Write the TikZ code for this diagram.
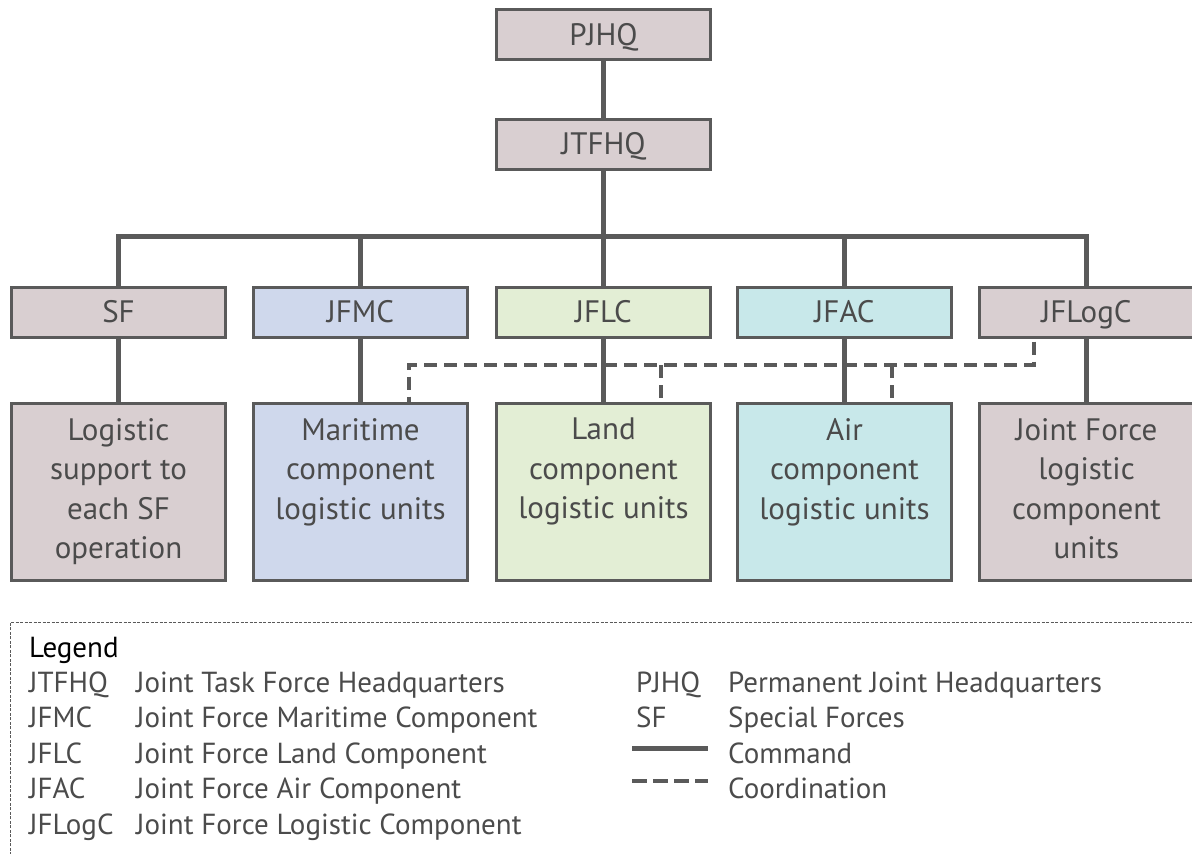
\documentclass[tikz,border=0pt]{standalone}
\usepackage{fontspec}
\setmainfont{PT Sans}
\usepackage{color}
\usepackage{tikz}
\definecolor{hqfill}{RGB}{217,207,209}
\definecolor{seafill}{RGB}{207,216,236}
\definecolor{landfill}{RGB}{227,238,213}
\definecolor{airfill}{RGB}{200,232,234}
\definecolor{linegray}{RGB}{90,90,90}
\definecolor{textgray}{RGB}{75,75,75}
\tikzset{
  font={\fontsize{31}{39.5}\selectfont},
  hqbox/.style={draw=linegray, line width=3pt, minimum width=214pt, minimum height=50pt, text=textgray, text height=21.5pt, text depth=0pt},
  unitbox/.style={hqbox, minimum height=177pt},
  unittext/.style={anchor=north, align=center, text=textgray},
  cmdline/.style={linegray, line width=5pt},
  coordline/.style={linegray, line width=4pt, dash pattern=on 13pt off 7pt},
  legtext/.style={anchor=base west, text=textgray, font={\fontsize{29}{35.5}\selectfont}}}

\begin{document}
\begin{tikzpicture}[x=1pt,y=-1pt]
\tikzstyle{every node}+=[inner sep=0pt]
\useasboundingbox (0,0) rectangle (1192,854);
\clip (0,0) rectangle (1192,854);
\node [hqbox, fill=hqfill] (pjhq) at (603.5,34.5) {PJHQ};
\node [hqbox, fill=hqfill] (jtfhq) at (603.5,144) {JTFHQ};
\node [hqbox, fill=hqfill] (sf) at (118.5,312) {SF};
\node [hqbox, fill=seafill] (jfmc) at (360.5,312) {JFMC};
\node [hqbox, fill=landfill] (jflc) at (603.5,312) {JFLC};
\node [hqbox, fill=airfill] (jfac) at (844.5,312) {JFAC};
\node [hqbox, fill=hqfill] (jflogc) at (1086.5,312) {JFLogC};
\node [unitbox, fill=hqfill] (sfunits) at (118.5,492) {};
\node [unitbox, fill=seafill] (seaunits) at (360.5,492) {};
\node [unitbox, fill=landfill] (landunits) at (603.5,492) {};
\node [unitbox, fill=airfill] (airunits) at (844.5,492) {};
\node [unitbox, fill=hqfill] (logunits) at (1086.5,492) {};
\node [unittext] (sftext) at (118.5,418) {Logistic\\support to\\each SF\\operation};
\node [unittext] (seatext) at (360.5,418) {Maritime\\component\\logistic units};
\node [unittext] (landtext) at (603.5,418) {Land\\component\\logistic units};
\node [unittext] (airtext) at (844.5,418) {Air\\component\\logistic units};
\node [unittext] (logtext) at (1086.5,418) {Joint Force\\logistic\\component\\units};
\coordinate (bus) at (603.5,236);
\coordinate (dashrow) at (603.5,365);
\draw [cmdline] (pjhq) -- (jtfhq);
\draw [cmdline] (jtfhq) -- (bus);
\draw [cmdline] (sf.north) |- (bus) -| (jflogc.north);
\draw [cmdline] (jfmc.north) -- (jfmc.north |- bus);
\draw [cmdline] (jflc.north) -- (jflc.north |- bus);
\draw [cmdline] (jfac.north) -- (jfac.north |- bus);
\draw [cmdline] (sf) -- (sfunits);
\draw [cmdline] (jfmc) -- (seaunits);
\draw [cmdline] (jflc) -- (landunits);
\draw [cmdline] (jfac) -- (airunits);
\draw [cmdline] (jflogc) -- (logunits);
\draw [coordline] ([xshift=-53pt,yshift=-3pt]jflogc.south) |- ([xshift=48pt]seaunits.north |- dashrow) -- ([xshift=48pt]seaunits.north);
\draw [coordline] ([xshift=57pt]landunits.north |- dashrow) -- ([xshift=57pt]landunits.north);
\draw [coordline] ([xshift=47pt]airunits.north |- dashrow) -- ([xshift=47pt]airunits.north);
\draw [linegray, line width=0.8pt, dash pattern=on 3pt off 1.5pt] (10,900) |- (1250,622);
\node [legtext, text=black] (legend) at (29,657) {Legend};
\node [legtext] (abjtfhq) at (29,692) {JTFHQ};
\node [legtext] (abjfmc) at (29,727.5) {JFMC};
\node [legtext] (abjflc) at (29,763) {JFLC};
\node [legtext] (abjfac) at (29,798.5) {JFAC};
\node [legtext] (abjflogc) at (29,834) {JFLogC};
\node [legtext] (dsjtfhq) at (136,692) {Joint Task Force Headquarters};
\node [legtext] (dsjfmc) at (136,727.5) {Joint Force Maritime Component};
\node [legtext] (dsjflc) at (136,763) {Joint Force Land Component};
\node [legtext] (dsjfac) at (136,798.5) {Joint Force Air Component};
\node [legtext] (dsjflogc) at (136,834) {Joint Force Logistic Component};
\node [legtext] (abpjhq) at (636,692) {PJHQ};
\node [legtext] (absf) at (636,727.5) {SF};
\node [legtext] (dspjhq) at (728,692) {Permanent Joint Headquarters};
\node [legtext] (dssf) at (728,727.5) {Special Forces};
\node [legtext] (dscmd) at (728,763) {Command};
\node [legtext] (dscoord) at (728,798.5) {Coordination};
\coordinate (cmdl) at (632,748);
\coordinate (cmdr) at (708,748);
\coordinate (coordl) at (632,781);
\coordinate (coordr) at (708,781);
\draw [cmdline] (cmdl) -- (cmdr);
\draw [coordline, dash pattern=on 15pt off 6pt] (coordl) -- (coordr);
\end{tikzpicture}
\end{document}
